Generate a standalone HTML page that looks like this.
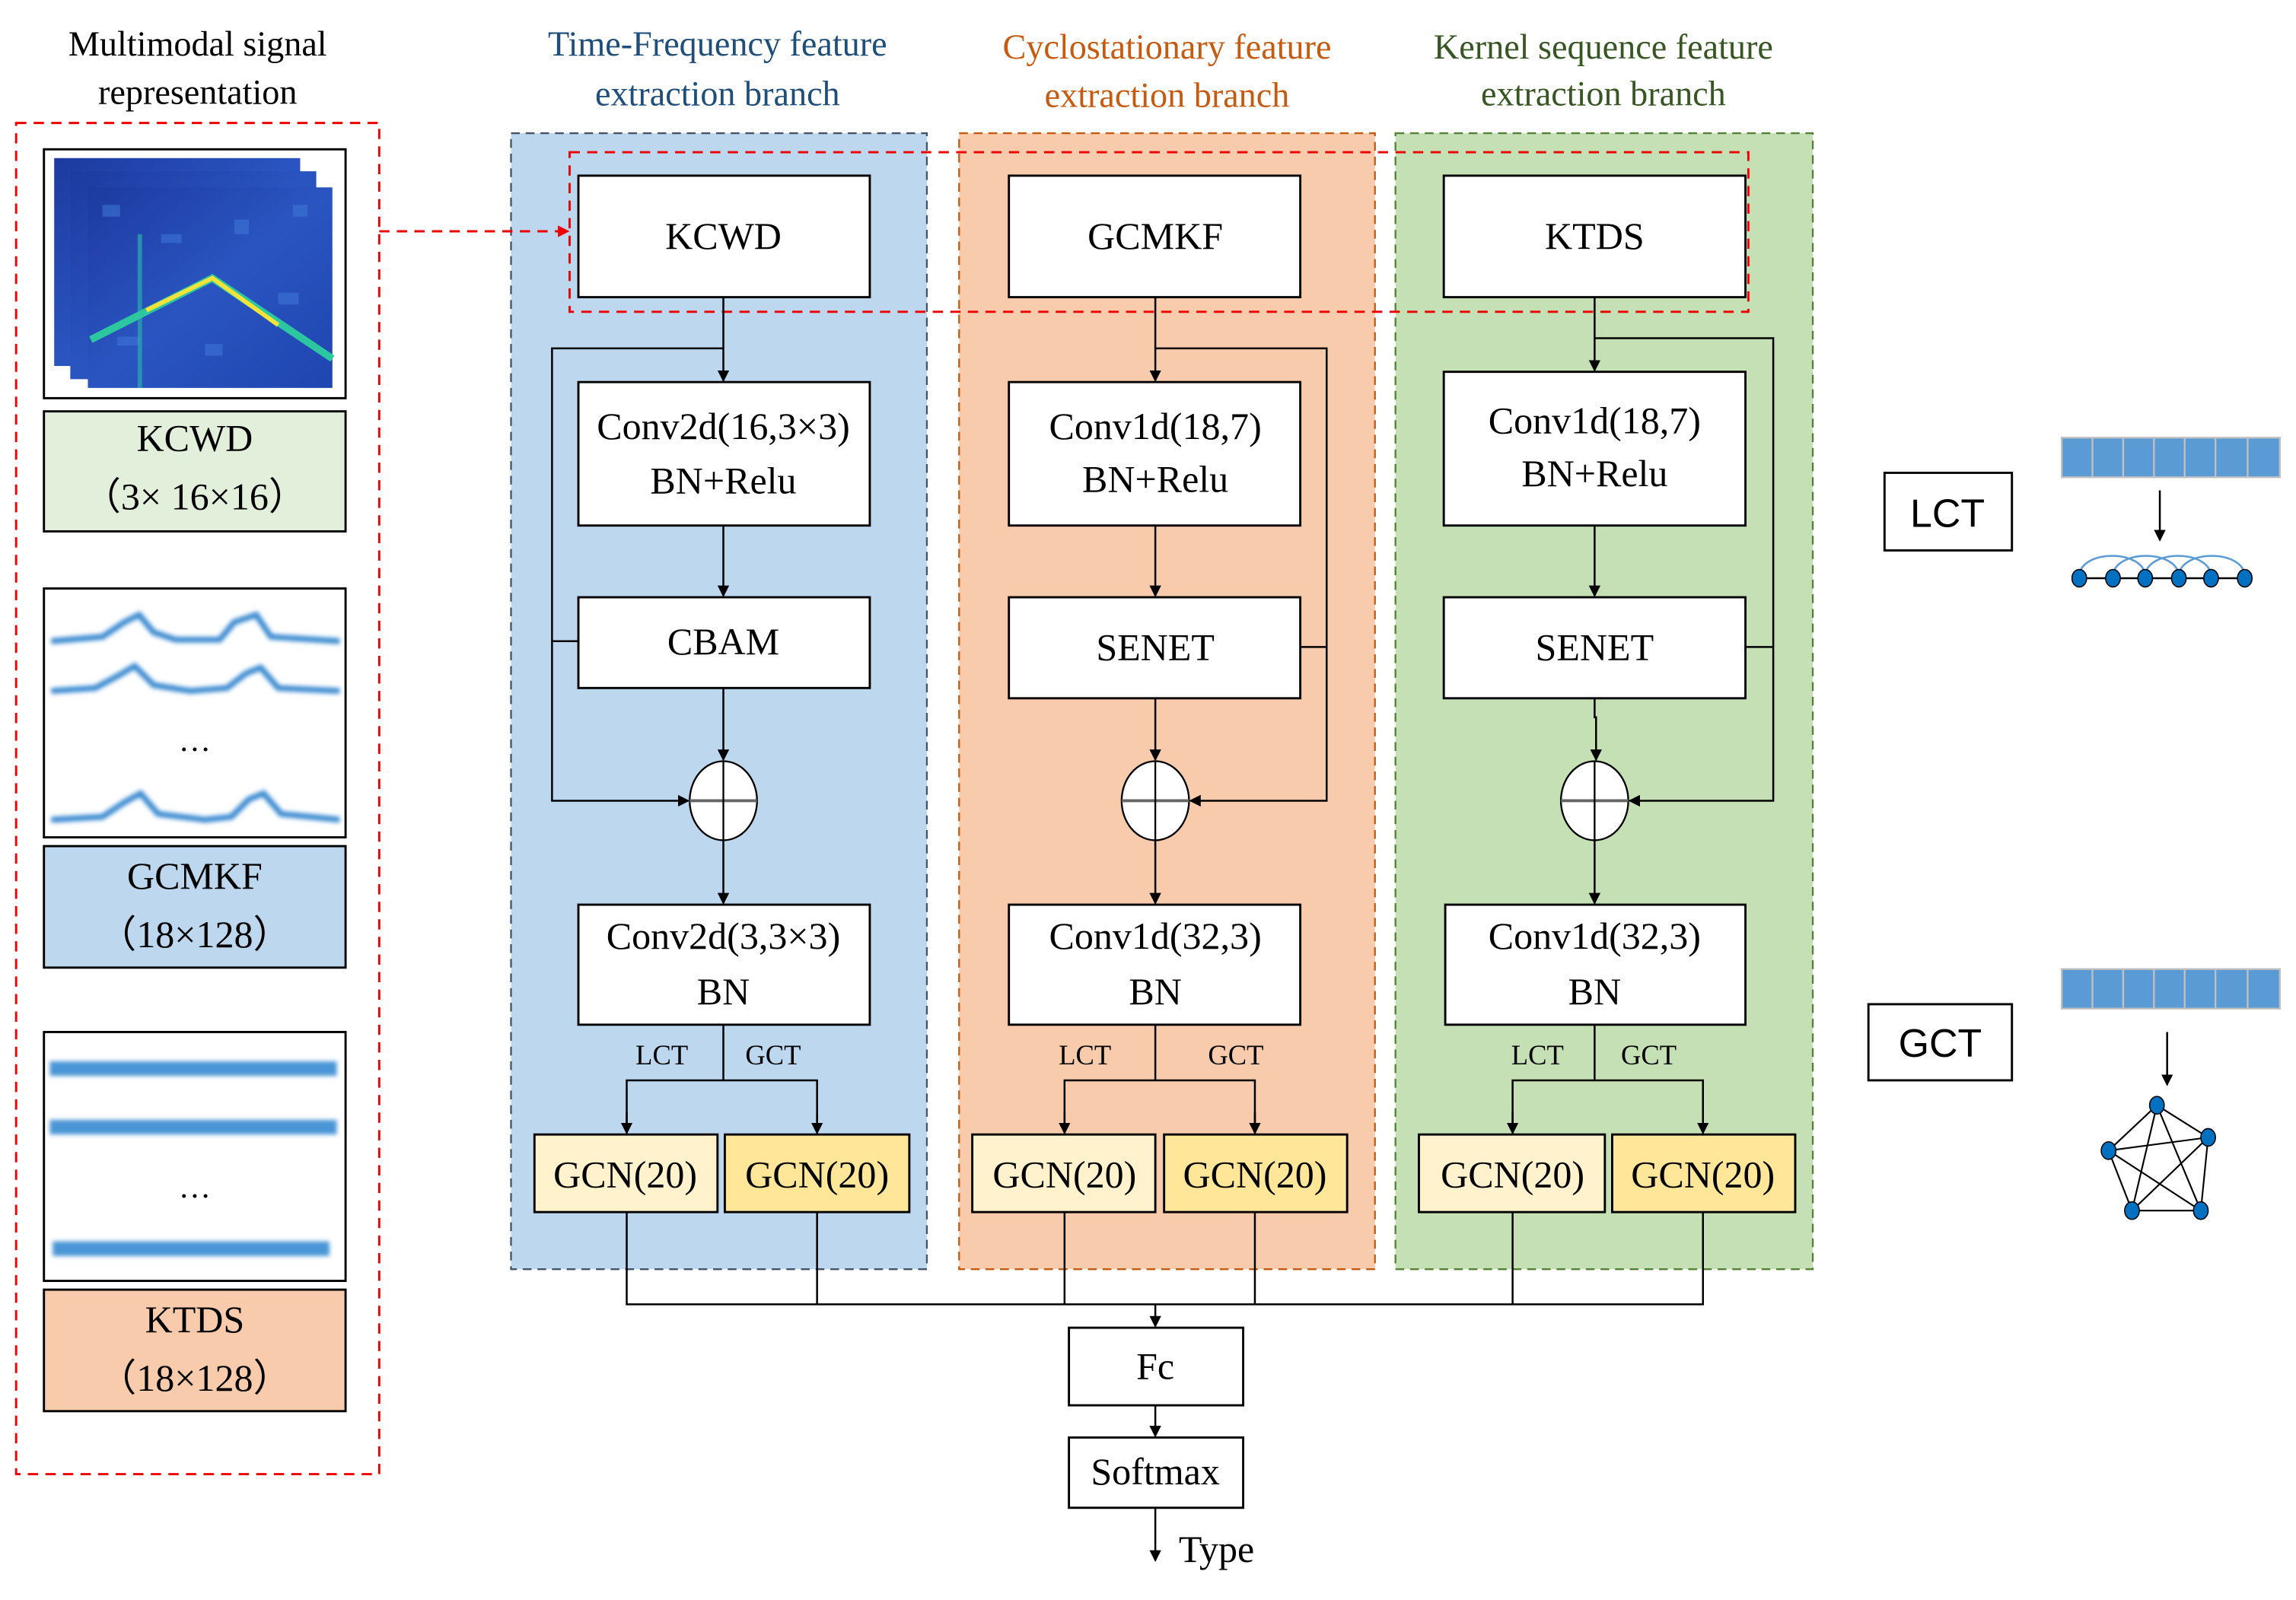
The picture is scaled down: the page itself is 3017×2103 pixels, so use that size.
<!DOCTYPE html>
<html><head><meta charset="utf-8"><style>
html,body{margin:0;padding:0;background:#fff}
svg{display:block}
text{font-family:"Liberation Serif",serif;fill:#000}
.s{font-family:"Liberation Sans",sans-serif}
</style></head><body>
<svg width="3017" height="2103" viewBox="0 0 1568 1093" preserveAspectRatio="none" xmlns="http://www.w3.org/2000/svg">
<defs>
<marker id="a" markerWidth="8" markerHeight="8" refX="7" refY="4" orient="auto" markerUnits="userSpaceOnUse"><path d="M0,0 L8,4 L0,8 z" fill="#000"/></marker>
<marker id="r" markerWidth="8" markerHeight="8" refX="7" refY="4" orient="auto" markerUnits="userSpaceOnUse"><path d="M0,0 L8,4 L0,8 z" fill="#e00"/></marker>
<linearGradient id="sp" x1="0" y1="0" x2="1" y2="1"><stop offset="0" stop-color="#1d3aa0"/><stop offset="0.5" stop-color="#2a55c0"/><stop offset="1" stop-color="#1f45b0"/></linearGradient>
<filter id="bl"><feGaussianBlur stdDeviation="1.5"/></filter>
</defs>

<!-- titles -->
<text x="135" y="38" font-size="24" text-anchor="middle">Multimodal signal</text>
<text x="135" y="71" font-size="24" text-anchor="middle">representation</text>
<text x="490" y="38" font-size="24" text-anchor="middle" style="fill:#1f4e79">Time-Frequency feature</text>
<text x="490" y="72" font-size="24" text-anchor="middle" style="fill:#1f4e79">extraction branch</text>
<text x="797" y="40" font-size="24" text-anchor="middle" style="fill:#c55a11">Cyclostationary feature</text>
<text x="797" y="73" font-size="24" text-anchor="middle" style="fill:#c55a11">extraction branch</text>
<text x="1095" y="40" font-size="24" text-anchor="middle" style="fill:#375623">Kernel sequence feature</text>
<text x="1095" y="72" font-size="24" text-anchor="middle" style="fill:#375623">extraction branch</text>

<!-- left panel -->
<rect x="11" y="84" width="248" height="923" fill="none" stroke="#e00" stroke-width="1.5" stroke-dasharray="7,5"/>
<rect x="30" y="102" width="206" height="170" fill="#fff" stroke="#000" stroke-width="1.5"/>
<rect x="37" y="108" width="168" height="142" fill="url(#sp)"/>
<rect x="48" y="117" width="168" height="142" fill="url(#sp)"/>
<rect x="60" y="128" width="167" height="137" fill="url(#sp)"/>
<g fill="#3d74d6" opacity="0.6"><rect x="70" y="140" width="12" height="8"/><rect x="110" y="160" width="14" height="6"/><rect x="160" y="150" width="10" height="10"/><rect x="190" y="200" width="14" height="8"/><rect x="80" y="230" width="16" height="6"/><rect x="140" y="235" width="12" height="8"/><rect x="200" y="140" width="10" height="8"/></g>
<rect x="94" y="160" width="3" height="105" fill="#2aa0b0" opacity="0.8"/>
<polyline points="62,232 145,190 227,245" fill="none" stroke="#2cc7a0" stroke-width="5"/>
<polyline points="100,212 145,190 190,222" fill="none" stroke="#f2e23a" stroke-width="3"/>
<rect x="30" y="281" width="206" height="82" fill="#e2efda" stroke="#000" stroke-width="1.5"/>
<text x="133" y="308" font-size="26" text-anchor="middle">KCWD</text>
<text x="133" y="348" font-size="26" text-anchor="middle">（3× 16×16）</text>

<rect x="30" y="402" width="206" height="170" fill="#fff" stroke="#000" stroke-width="1.5"/>
<g fill="none" stroke="#3a8ad0" stroke-width="4" filter="url(#bl)">
<path d="M35,438 L70,435 L85,425 L95,420 L105,432 L120,437 L150,437 L160,425 L175,420 L185,435 L232,438"/>
<path d="M35,472 L65,470 L80,462 L92,455 L105,468 L130,472 L155,470 L168,460 L178,456 L190,470 L232,472"/>
<path d="M35,560 L70,558 L85,548 L96,542 L108,556 L140,560 L158,558 L170,546 L180,542 L192,556 L232,560"/>
</g>
<text x="133" y="513" font-size="22" text-anchor="middle">…</text>
<rect x="30" y="578" width="206" height="83" fill="#bdd7ee" stroke="#000" stroke-width="1.5"/>
<text x="133" y="607" font-size="26" text-anchor="middle">GCMKF</text>
<text x="133" y="647" font-size="26" text-anchor="middle">（18×128）</text>

<rect x="30" y="705" width="206" height="170" fill="#fff" stroke="#000" stroke-width="1.5"/>
<g fill="none" stroke="#4a95d6" stroke-width="10" filter="url(#bl)">
<path d="M34,730 L230,730"/><path d="M34,770 L230,770"/><path d="M36,853 L225,853"/>
</g>
<text x="133" y="818" font-size="22" text-anchor="middle">…</text>
<rect x="30" y="881" width="206" height="83" fill="#f8cbad" stroke="#000" stroke-width="1.5"/>
<text x="133" y="910" font-size="26" text-anchor="middle">KTDS</text>
<text x="133" y="950" font-size="26" text-anchor="middle">（18×128）</text>

<!-- branch panels -->
<rect x="349" y="91" width="284" height="776" fill="#bdd7ee" stroke="#44546a" stroke-width="1.2" stroke-dasharray="6,4"/>
<rect x="655" y="91" width="284" height="776" fill="#f8cbad" stroke="#c55a11" stroke-width="1.2" stroke-dasharray="6,4"/>
<rect x="953" y="91" width="285" height="776" fill="#c5e0b4" stroke="#548235" stroke-width="1.2" stroke-dasharray="6,4"/>

<line x1="259" y1="158" x2="388" y2="158" stroke="#e00" stroke-width="1.5" stroke-dasharray="7,5" marker-end="url(#r)"/>

<g stroke="#000" stroke-width="1.5" fill="#fff">
<!-- col1 -->
<rect x="395" y="120" width="199" height="83"/>
<rect x="395" y="261" width="199" height="98"/>
<rect x="395" y="408" width="199" height="62"/>
<rect x="395" y="618" width="199" height="82"/>
<!-- col2 -->
<rect x="689" y="120" width="199" height="83"/>
<rect x="689" y="261" width="199" height="98"/>
<rect x="689" y="408" width="199" height="69"/>
<rect x="689" y="618" width="199" height="82"/>
<!-- col3 -->
<rect x="986" y="120" width="206" height="83"/>
<rect x="986" y="254" width="206" height="105"/>
<rect x="986" y="408" width="206" height="69"/>
<rect x="987" y="618" width="205" height="82"/>
<!-- out -->
<rect x="730" y="907" width="119" height="53"/>
<rect x="730" y="982" width="119" height="48"/>
<rect x="1287" y="323" width="87" height="53"/>
<rect x="1276" y="686" width="98" height="52"/>
</g>
<g stroke="#000" stroke-width="1.5">
<rect x="365" y="775" width="125" height="53" fill="#fff2cc"/><rect x="495" y="775" width="126" height="53" fill="#ffe699"/>
<rect x="664" y="775" width="125" height="53" fill="#fff2cc"/><rect x="795" y="775" width="125" height="53" fill="#ffe699"/>
<rect x="969" y="775" width="127" height="53" fill="#fff2cc"/><rect x="1101" y="775" width="125" height="53" fill="#ffe699"/>
</g>
<rect x="389" y="104" width="805" height="109" fill="none" stroke="#e00" stroke-width="1.5" stroke-dasharray="7,5"/>

<!-- circles -->
<g stroke="#000" stroke-width="1.2">
<ellipse cx="494" cy="547" rx="23" ry="27" fill="#fff"/><line x1="471" y1="547" x2="517" y2="547" stroke="#666" stroke-width="2"/><line x1="494" y1="520" x2="494" y2="574"/>
<ellipse cx="789" cy="547" rx="23" ry="27" fill="#fff"/><line x1="766" y1="547" x2="812" y2="547" stroke="#666" stroke-width="2"/><line x1="789" y1="520" x2="789" y2="574"/>
<ellipse cx="1089" cy="547" rx="23" ry="27" fill="#fff"/><line x1="1066" y1="547" x2="1112" y2="547" stroke="#666" stroke-width="2"/><line x1="1089" y1="520" x2="1089" y2="574"/>
</g>

<!-- connectors -->
<g stroke="#000" stroke-width="1.3" fill="none">
<line x1="494" y1="203" x2="494" y2="260" marker-end="url(#a)"/>
<line x1="494" y1="359" x2="494" y2="407" marker-end="url(#a)"/>
<line x1="494" y1="470" x2="494" y2="519" marker-end="url(#a)"/>
<line x1="494" y1="574" x2="494" y2="617" marker-end="url(#a)"/>
<polyline points="494,238 377,238 377,547 470,547" marker-end="url(#a)"/>
<line x1="377" y1="438" x2="395" y2="438"/>

<line x1="789" y1="203" x2="789" y2="260" marker-end="url(#a)"/>
<line x1="789" y1="359" x2="789" y2="407" marker-end="url(#a)"/>
<line x1="789" y1="477" x2="789" y2="519" marker-end="url(#a)"/>
<line x1="789" y1="574" x2="789" y2="617" marker-end="url(#a)"/>
<polyline points="789,238 906,238 906,547 813,547" marker-end="url(#a)"/>
<line x1="888" y1="442" x2="906" y2="442"/>

<line x1="1089" y1="203" x2="1089" y2="253" marker-end="url(#a)"/>
<line x1="1089" y1="359" x2="1089" y2="407" marker-end="url(#a)"/>
<polyline points="1089,477 1089,490 1090,490 1090,519" marker-end="url(#a)"/>
<line x1="1089" y1="574" x2="1089" y2="617" marker-end="url(#a)"/>
<polyline points="1089,231 1211,231 1211,547 1113,547" marker-end="url(#a)"/>
<line x1="1192" y1="442" x2="1211" y2="442"/>

<line x1="494" y1="700" x2="494" y2="738"/><polyline points="428,774 428,738 558,738 558,774"/>
<line x1="789" y1="700" x2="789" y2="738"/><polyline points="727,774 727,738 857,738 857,774"/>
<line x1="1089" y1="700" x2="1089" y2="738"/><polyline points="1033,774 1033,738 1163,738 1163,774"/>

<polyline points="428,828 428,891 1163,891 1163,828"/>
<line x1="558" y1="828" x2="558" y2="891"/><line x1="727" y1="828" x2="727" y2="891"/><line x1="857" y1="828" x2="857" y2="891"/><line x1="1033" y1="828" x2="1033" y2="891"/>
<line x1="789" y1="891" x2="789" y2="906" marker-end="url(#a)"/>
<line x1="789" y1="960" x2="789" y2="981" marker-end="url(#a)"/>
<line x1="789" y1="1030" x2="789" y2="1066" marker-end="url(#a)"/>
</g>
<g marker-end="url(#a)" stroke="#000" stroke-width="1.3">
<line x1="428" y1="760" x2="428" y2="774"/><line x1="558" y1="760" x2="558" y2="774"/>
<line x1="727" y1="760" x2="727" y2="774"/><line x1="857" y1="760" x2="857" y2="774"/>
<line x1="1033" y1="760" x2="1033" y2="774"/><line x1="1163" y1="760" x2="1163" y2="774"/>
</g>

<!-- box texts -->
<g font-size="26" text-anchor="middle">
<text x="494" y="170">KCWD</text>
<text x="494" y="300">Conv2d(16,3×3)</text><text x="494" y="337">BN+Relu</text>
<text x="494" y="447">CBAM</text>
<text x="494" y="648">Conv2d(3,3×3)</text><text x="494" y="686">BN</text>
<text x="789" y="170">GCMKF</text>
<text x="789" y="300">Conv1d(18,7)</text><text x="789" y="336">BN+Relu</text>
<text x="789" y="451">SENET</text>
<text x="789" y="648">Conv1d(32,3)</text><text x="789" y="686">BN</text>
<text x="1089" y="170">KTDS</text>
<text x="1089" y="296">Conv1d(18,7)</text><text x="1089" y="332">BN+Relu</text>
<text x="1089" y="451">SENET</text>
<text x="1089" y="648">Conv1d(32,3)</text><text x="1089" y="686">BN</text>
<text x="427" y="811">GCN(20)</text><text x="558" y="811">GCN(20)</text>
<text x="727" y="811">GCN(20)</text><text x="857" y="811">GCN(20)</text>
<text x="1033" y="811">GCN(20)</text><text x="1163" y="811">GCN(20)</text>
<text x="789" y="942">Fc</text>
<text x="789" y="1014">Softmax</text>
</g>
<text x="805" y="1067" font-size="26">Type</text>
<g font-size="19" text-anchor="middle">
<text x="452" y="727">LCT</text><text x="528" y="727">GCT</text>
<text x="741" y="727">LCT</text><text x="844" y="727">GCT</text>
<text x="1050" y="727">LCT</text><text x="1126" y="727">GCT</text>
</g>
<text class="s" x="1330" y="360" font-size="27" text-anchor="middle">LCT</text>
<text class="s" x="1325" y="722" font-size="27" text-anchor="middle">GCT</text>

<!-- LCT icon -->
<g fill="#5b9bd5" stroke="#c0c0c0" stroke-width="1.2">
<rect x="1408" y="299" width="21" height="27"/><rect x="1429" y="299" width="21" height="27"/><rect x="1450" y="299" width="21" height="27"/><rect x="1471" y="299" width="21" height="27"/><rect x="1492" y="299" width="21" height="27"/><rect x="1513" y="299" width="22" height="27"/><rect x="1535" y="299" width="22" height="27"/>
<rect x="1408" y="662" width="21" height="27"/><rect x="1429" y="662" width="21" height="27"/><rect x="1450" y="662" width="21" height="27"/><rect x="1471" y="662" width="21" height="27"/><rect x="1492" y="662" width="21" height="27"/><rect x="1513" y="662" width="22" height="27"/><rect x="1535" y="662" width="22" height="27"/>
</g>
<line x1="1475" y1="335" x2="1475" y2="369" stroke="#000" stroke-width="1.3" marker-end="url(#a)"/>
<g fill="none" stroke="#5b9bd5" stroke-width="1.3">
<path d="M1420,394 C1420,375 1465,375 1465,394"/><path d="M1443,394 C1443,375 1488,375 1488,394"/><path d="M1465,394 C1465,375 1510,375 1510,394"/><path d="M1488,394 C1488,375 1533,375 1533,394"/>
</g>
<line x1="1420" y1="395" x2="1533" y2="395" stroke="#000" stroke-width="1.3"/>
<g fill="#0070c0" stroke="#000" stroke-width="0.8">
<ellipse cx="1420" cy="395" rx="5" ry="6"/><ellipse cx="1443" cy="395" rx="5" ry="6"/><ellipse cx="1465" cy="395" rx="5" ry="6"/><ellipse cx="1488" cy="395" rx="5" ry="6"/><ellipse cx="1510" cy="395" rx="5" ry="6"/><ellipse cx="1533" cy="395" rx="5" ry="6"/>
</g>
<!-- GCT icon -->
<line x1="1480" y1="705" x2="1480" y2="741" stroke="#000" stroke-width="1.3" marker-end="url(#a)"/>
<g stroke="#000" stroke-width="1.1">
<line x1="1473" y1="755" x2="1508" y2="777"/><line x1="1473" y1="755" x2="1440" y2="786"/><line x1="1473" y1="755" x2="1456" y2="827"/><line x1="1473" y1="755" x2="1503" y2="827"/>
<line x1="1508" y1="777" x2="1440" y2="786"/><line x1="1508" y1="777" x2="1456" y2="827"/><line x1="1508" y1="777" x2="1503" y2="827"/>
<line x1="1440" y1="786" x2="1456" y2="827"/><line x1="1440" y1="786" x2="1503" y2="827"/><line x1="1456" y1="827" x2="1503" y2="827"/>
</g>
<g fill="#0070c0" stroke="#000" stroke-width="0.8">
<ellipse cx="1473" cy="755" rx="5" ry="6"/><ellipse cx="1508" cy="777" rx="5" ry="6"/><ellipse cx="1440" cy="786" rx="5" ry="6"/><ellipse cx="1456" cy="827" rx="5" ry="6"/><ellipse cx="1503" cy="827" rx="5" ry="6"/>
</g>
</svg>
</body></html>
